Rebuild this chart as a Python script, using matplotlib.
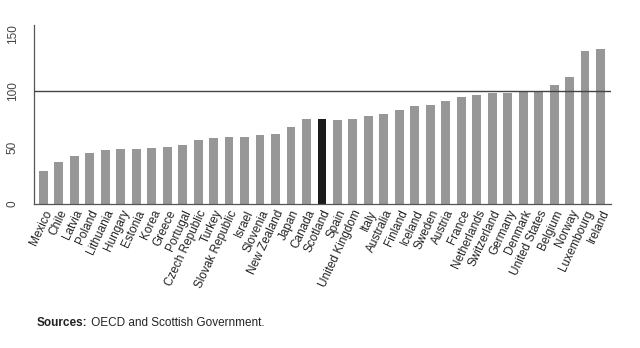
import matplotlib.pyplot as plt

# OECD countries ranked, index (US = 100)
countries = ["Mexico", "Chile", "Latvia", "Poland", "Lithuania", "Hungary", "Estonia",
             "Korea", "Greece", "Portugal", "Czech Republic", "Turkey", "Slovak Republic",
             "Israel", "Slovenia", "New Zealand", "Japan", "Canada", "Scotland", "Spain",
             "United Kingdom", "Italy", "Australia", "Finland", "Iceland", "Sweden",
             "Austria", "France", "Netherlands", "Switzerland", "Germany", "Denmark",
             "United States", "Belgium", "Norway", "Luxembourg", "Ireland"]
values = [28.8, 37.0, 42.4, 45.0, 47.6, 48.2, 48.5, 49.4, 50.0, 52.4, 56.5, 58.2, 59.1,
          59.4, 60.9, 61.8, 67.6, 74.7, 75.3, 74.4, 75.3, 77.6, 79.1, 82.9, 86.5, 87.1,
          90.6, 94.1, 96.5, 97.6, 97.9, 99.4, 100.0, 105.3, 112.4, 135.5, 136.5]
highlight = "Scotland"
reference_level = 100
y_ticks = [0, 50, 100, 150]

plt.rcParams['font.family'] = ['Liberation Sans', 'DejaVu Sans']

fig = plt.figure(figsize=(6.4, 3.48), dpi=100)
ax = fig.add_axes([0.053, 0.414, 0.902, 0.514])

colors = ["#1a1a1a" if c == highlight else "#979797" for c in countries]
x = range(len(countries))
ax.bar(x, values, width=0.57, color=colors, zorder=2)
ax.axhline(reference_level, color="#444444", linewidth=1.0, zorder=3)

ax.set_xlim(-0.61, len(countries) - 1 + 0.69)
ax.set_ylim(0, 158)
ax.set_yticks(y_ticks)
ax.set_yticklabels([str(t) for t in y_ticks], rotation=90, va="center",
                   fontsize=8.5, color="#444444")
ax.set_xticks(list(x))
ax.set_xticklabels(countries, rotation=65, ha="right", rotation_mode="anchor",
                   fontsize=8.5, color="#222222")
ax.tick_params(axis="y", length=0, pad=11)
ax.tick_params(axis="x", length=0, pad=3)

for side in ["top", "right"]:
    ax.spines[side].set_visible(False)
for side in ["left", "bottom"]:
    ax.spines[side].set_color("#555555")
    ax.spines[side].set_linewidth(0.9)

src = fig.text(37 / 640, 1 - 323 / 348, "Sources:", fontsize=8.5, fontweight="bold",
               va="center", color="#222222")
ax.annotate(" OECD and Scottish Government.", xy=(1, 0.5), xycoords=src,
            va="center", ha="left", fontsize=8.5, color="#222222")

fig.savefig("out.png", dpi=100)
